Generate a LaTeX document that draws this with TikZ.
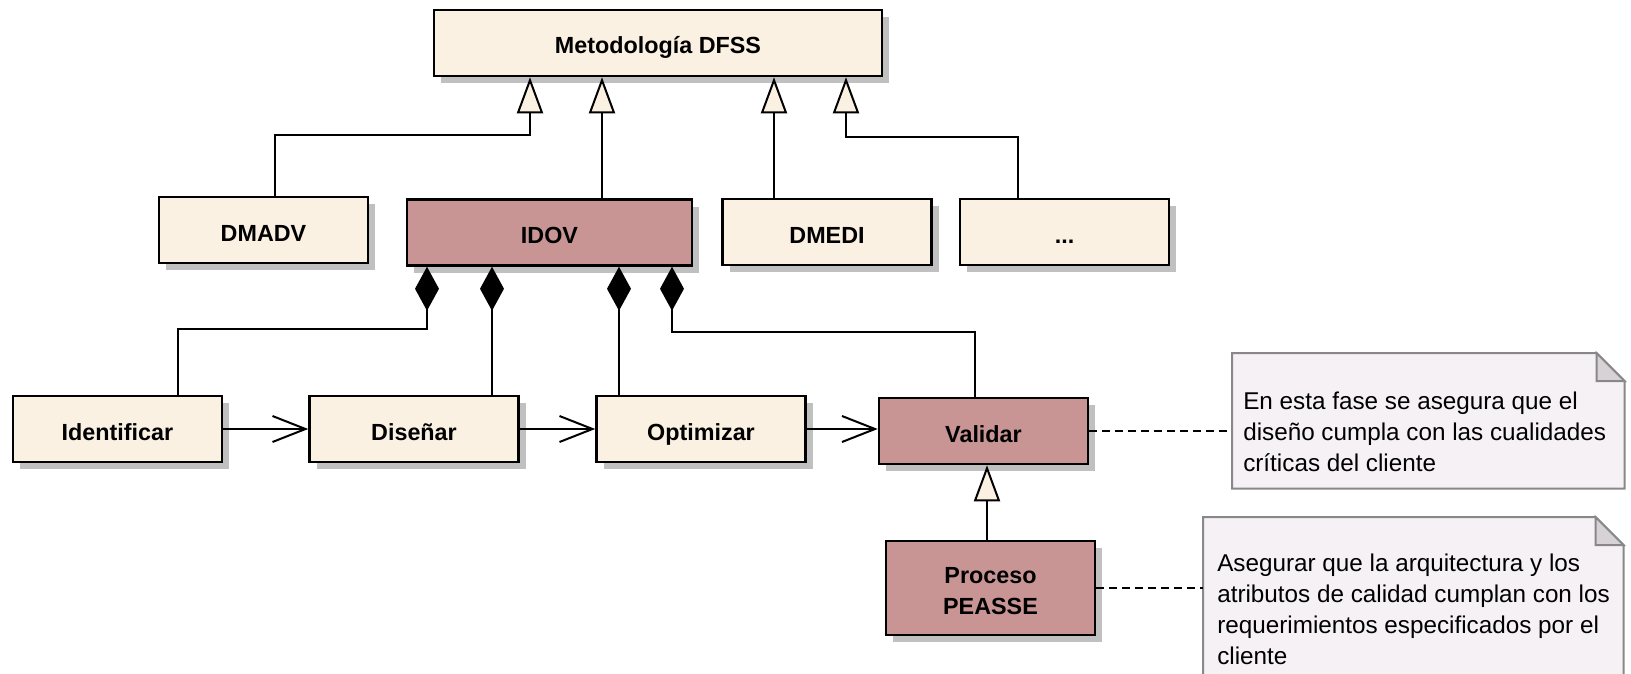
\documentclass[tikz,border=0pt]{standalone}
\usepackage{fontspec}
\setmainfont{Liberation Sans}
\usetikzlibrary{arrows.meta,shadows,calc}

\definecolor{classfill}{RGB}{251,241,226}
\definecolor{idovfill}{RGB}{200,148,148}
\definecolor{shadowgray}{RGB}{192,192,192}
\definecolor{notefill}{RGB}{245,241,245}
\definecolor{notegray}{RGB}{136,136,136}
\definecolor{foldfill}{RGB}{214,210,214}

\begin{document}
% one unit = one pixel, y grows downwards
\begin{tikzpicture}[x=0.75pt,y=-0.75pt,
  classbox/.style={draw=black, line width=1.9pt, fill=classfill, inner sep=0pt,
    minimum width=156.75pt, minimum height=49.5pt,
    font=\fontsize{17.5pt}{23.25pt}\selectfont\bfseries,
    text height=16.5pt, text depth=0pt,
    drop shadow={shadow xshift=5.25pt, shadow yshift=-5.25pt, fill=shadowgray, opacity=1}},
  hibox/.style={classbox, fill=idovfill},
  conn/.style={line width=1.5pt, draw=black},
  gen/.style={conn, -{Triangle[length=27pt,width=19.5pt,fill=classfill]}},
  comp/.style={conn, {Diamond[length=33pt,width=18pt]}-},
  flow/.style={conn, -{Straight Barb[length=24.75pt,width=19.5pt]}},
  notelink/.style={conn, dash pattern=on 6pt off 3.75pt},
  notebox/.style={inner sep=0pt, anchor=north west},
  noteshape/.style={draw=notegray, line width=1.5pt, fill=notefill, line join=miter},
  notefold/.style={draw=notegray, line width=1.5pt, fill=foldfill},
  notetext/.style={anchor=base west, inner sep=0pt,
    font=\fontsize{18.2pt}{23.25pt}\selectfont}
]
\useasboundingbox (0,0) rectangle (1631,674);
\clip (0,0) rectangle (1631,674);

% top level and its specialisations
\node[classbox, minimum width=336pt] (meta) at (658,43) {Metodología DFSS};
\node[classbox] (dmadv) at (263.5,230) {DMADV};
\node[hibox, minimum width=213.75pt] (idov) at (549.5,232.5) {IDOV};
\node[classbox] (dmedi) at (827,232) {DMEDI};
\node[classbox] (dots) at (1064.5,232) {...};

% phases of IDOV
\node[classbox] (ident) at (117.5,429) {Identificar};
\node[classbox] (disenar) at (414,429) {Diseñar};
\node[classbox] (optim) at (701,429) {Optimizar};
\node[hibox] (valid) at (983.5,431) {Validar};
\node[hibox, minimum height=70.5pt, text height=, text depth=, align=center]
  (peasse) at (990.5,588) {\rule{0pt}{17pt}Proceso\\PEASSE};

% notes
\node[notebox, minimum width=294pt, minimum height=101.25pt] (note1) at (1232,353) {};
\node[notebox, minimum width=315pt, minimum height=135pt] (note2) at (1203,517) {};
\foreach \n in {note1,note2}{
  \draw[noteshape] (\n.north west) -- ($(\n.north east)+(-28,0)$)
    -- ($(\n.north east)+(0,28)$) -- (\n.south east) -- (\n.south west) -- cycle;
  \draw[notefold] ($(\n.north east)+(-28,0)$) -- ($(\n.north east)+(-28,28)$)
    -- ($(\n.north east)+(0,28)$) -- cycle;
}
\node[notetext] (note1txt) at (1243,409) {\vtop{\hbox{En esta fase se asegura que el}
  \hbox{diseño cumpla con las cualidades}\hbox{críticas del cliente}}};
\node[notetext] (note2txt) at (1217,571) {\vtop{\hbox{Asegurar que la arquitectura y los}
  \hbox{atributos de calidad cumplan con los}\hbox{requerimientos especificados por el}
  \hbox{cliente}}};

% generalisations
\draw[gen] ($(dmadv.north)+(11.5,0)$) |- (530,135) -- ($(meta.south)+(-128,0)$);
\draw[gen] ($(idov.north)+(52.5,0)$) -- ($(meta.south)+(-56,0)$);
\draw[gen] ($(dmedi.north)+(-53,0)$) -- ($(meta.south)+(116,0)$);
\draw[gen] ($(dots.north)+(-46.5,0)$) |- (846,137) -- ($(meta.south)+(188,0)$);
\draw[gen] ($(peasse.north)+(-3.5,0)$) -- ($(valid.south)+(3.5,0)$);

% compositions
\draw[comp] ($(idov.south)+(-122.5,0)$) |- (178,329) -- ($(ident.north)+(60.5,0)$);
\draw[comp] ($(idov.south)+(-57.5,0)$) -- ($(disenar.north)+(78,0)$);
\draw[comp] ($(idov.south)+(69.5,0)$) -- ($(optim.north)+(-82,0)$);
\draw[comp] ($(idov.south)+(122.5,0)$) |- (975,332) -- ($(valid.north)+(-8.5,0)$);

% sequence of phases
\draw[flow] (ident.east) -- (disenar.west);
\draw[flow] (disenar.east) -- (optim.west);
\draw[flow] (optim.east) -- (optim.east -| valid.west);

% note links
\draw[notelink] (valid.east) -- (valid.east -| note1.west);
\draw[notelink] (peasse.east) -- (peasse.east -| note2.west);
\end{tikzpicture}
\end{document}
